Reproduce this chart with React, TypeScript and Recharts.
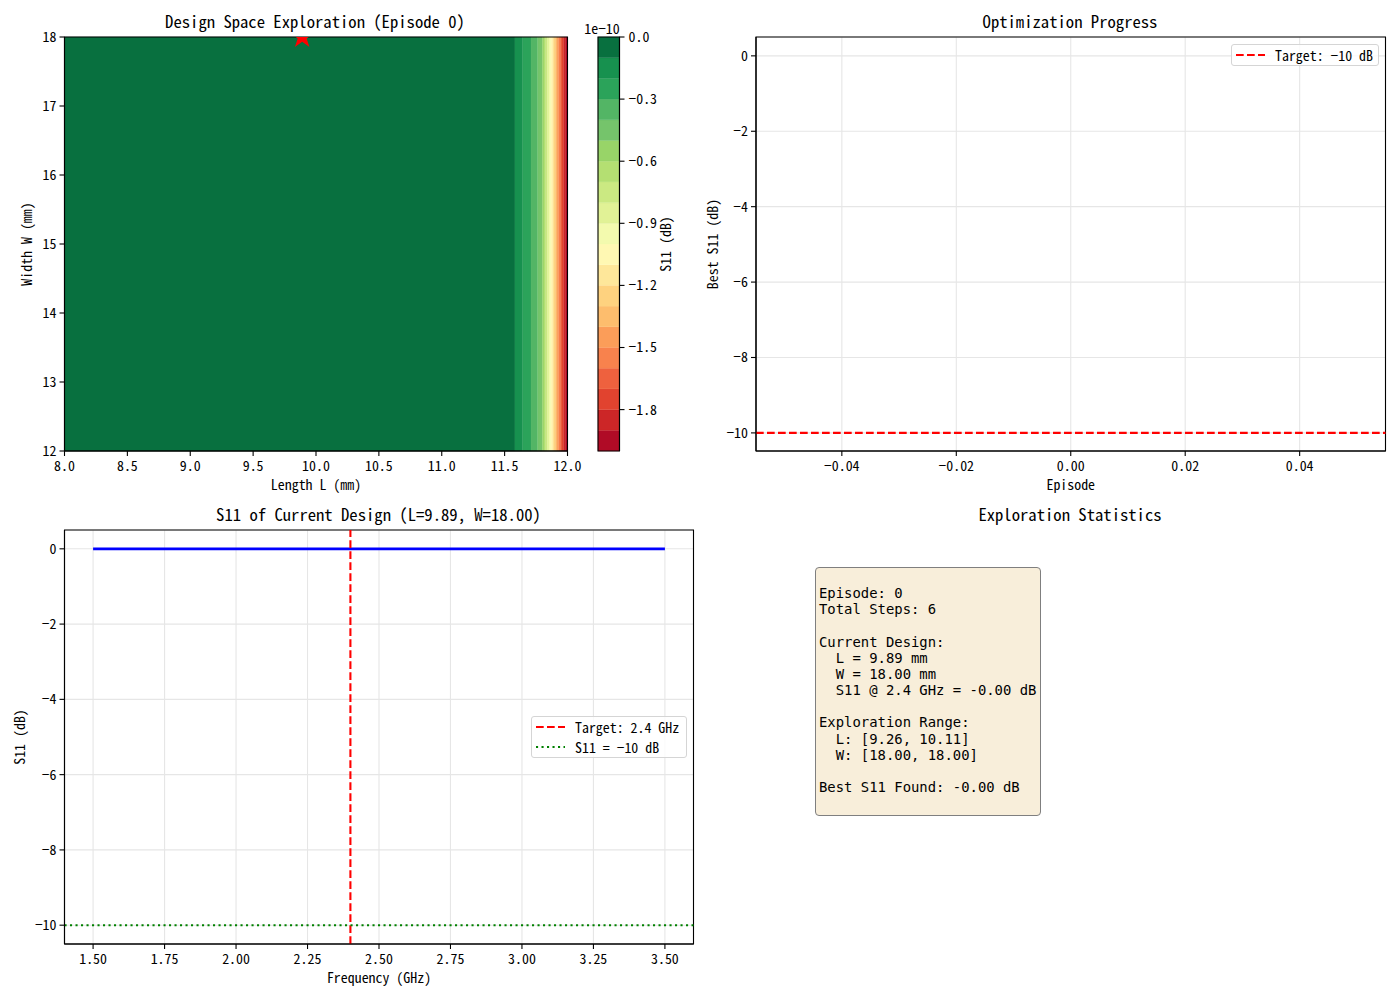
import {
  ComposedChart,
  CartesianGrid,
  Legend,
  Line,
  ReferenceArea,
  ReferenceLine,
  Scatter,
  XAxis,
  YAxis,
  ZAxis,
} from "recharts";

// contour levels, bottom band is -2.0e-10 .. -1.9e-10, top band is -0.1e-10 .. 0
const levels = [
  -2.0, -1.9, -1.8, -1.7, -1.6, -1.5, -1.4, -1.3, -1.2, -1.1, -1.0, -0.9, -0.8,
  -0.7, -0.6, -0.5, -0.4, -0.3, -0.2, -0.1, 0,
];
const levelColors = [
  "#b00b26", "#cc2627", "#e1432f", "#ee613e", "#f8824d", "#fb9d59", "#fdbd6d",
  "#fed27f", "#fee79a", "#fff8b3", "#f3faae", "#e1f296", "#cbe982", "#b4df72",
  "#98d468", "#75c46b", "#53b565", "#2ba35a", "#17914f", "#08703f",
];
// where each contour band ends along L, left to right (top level first)
const contourEdges = [
  8, 11.582, 11.644, 11.71, 11.763, 11.8, 11.813, 11.827, 11.84, 11.853, 11.867,
  11.881, 11.893, 11.905, 11.917, 11.93, 11.943, 11.956, 11.97, 11.985, 12,
];

const currentL = [9.89];
const currentW = [18];

const lengthTicks = [8, 8.5, 9, 9.5, 10, 10.5, 11, 11.5, 12];
const widthTicks = [12, 13, 14, 15, 16, 17, 18];
const colorbarTicks = [0, -0.3, -0.6, -0.9, -1.2, -1.5, -1.8];
const colorbarSpan = [0, 1];
const episodeTicks = [-0.04, -0.02, 0, 0.02, 0.04];
const s11Ticks = [0, -2, -4, -6, -8, -10];
const freqTicks = [1.5, 1.75, 2, 2.25, 2.5, 2.75, 3, 3.25, 3.5];

const targetEpisodes = [-0.055, 0.055];
const targetValues = [-10, -10];

const frequencies = [1.5, 2, 2.5, 3, 3.5];
const s11Values = [0, 0, 0, 0, 0];

const statsLines = [
  "",
  "Episode: 0",
  "Total Steps: 6",
  "",
  "Current Design:",
  "  L = 9.89 mm",
  "  W = 18.00 mm",
  "  S11 @ 2.4 GHz = -0.00 dB",
  "",
  "Exploration Range:",
  "  L: [9.26, 10.11]",
  "  W: [18.00, 18.00]",
  "",
  "Best S11 Found: -0.00 dB",
  "",
];

const FONT = '"Noto Sans Mono CJK SC", "Noto Sans Mono CJK JP", "Liberation Mono", monospace';
const GRID = "#e6e6e6";
const tickStyle = { fill: "#000", fontSize: 13.9, fontFamily: FONT };
const labelStyle = { fill: "#000", fontSize: 13.9, fontFamily: FONT, textAnchor: "middle" as const };
const axisStroke = { stroke: "#000", strokeWidth: 1.1 };

const fmt = (digits: number) => (v: number) => v.toFixed(digits).replace("-", "\u2212");

function Caption({ x, y, text, size = 16.67 }: { x: number; y: number; text: string; size?: number }) {
  return (
    <div
      style={{
        position: "absolute",
        left: x,
        top: y,
        transform: "translate(-50%, -50%)",
        fontFamily: FONT,
        fontSize: size,
        whiteSpace: "pre",
        color: "#000",
      }}
    >
      {text}
    </div>
  );
}

type Entry = { label: string; color: string; dash: string };

function LegendBox({ entries, width }: { entries: Entry[]; width: number }) {
  return (
    <div
      style={{
        width,
        boxSizing: "border-box",
        background: "rgba(255,255,255,0.8)",
        border: "1px solid #d5d5d5",
        borderRadius: 3,
        paddingLeft: 4,
        fontFamily: FONT,
        fontSize: 13.9,
        lineHeight: "20px",
        color: "#000",
      }}
    >
      {entries.map((e) => (
        <div key={e.label} style={{ display: "flex", alignItems: "center", height: 20 }}>
          <svg width={30} height={6} style={{ marginRight: 9 }}>
            <line x1={0} y1={3} x2={29} y2={3} stroke={e.color} strokeWidth={2.1} strokeDasharray={e.dash} />
          </svg>
          <span>{e.label}</span>
        </div>
      ))}
    </div>
  );
}

function ContourPanel() {
  const point = currentL.map((l, i) => ({ l, w: currentW[i] }));
  return (
    <div style={{ position: "absolute", left: 0, top: 0 }}>
      <ComposedChart width={590} height={500} data={point} margin={{ top: 37, right: 22.5, bottom: 0, left: 0 }}>
        <XAxis
          type="number"
          dataKey="l"
          domain={[8, 12]}
          ticks={lengthTicks}
          interval={0}
          allowDataOverflow
          height={49}
          tickSize={5}
          tickMargin={5}
          tick={tickStyle}
          axisLine={axisStroke}
          tickLine={axisStroke}
          tickFormatter={fmt(1)}
          label={{ value: "Length L (mm)", position: "insideBottom", offset: 10, style: labelStyle }}
        />
        <YAxis
          type="number"
          dataKey="w"
          domain={[12, 18]}
          ticks={widthTicks}
          interval={0}
          allowDataOverflow
          width={64.5}
          tickSize={5}
          tickMargin={3}
          tick={tickStyle}
          axisLine={axisStroke}
          tickLine={axisStroke}
          label={{ value: "Width W (mm)", angle: -90, position: "insideLeft", offset: 27, style: labelStyle }}
        />
        <ZAxis range={[170, 170]} />
        {levelColors
          .slice()
          .reverse()
          .map((color, i) => (
            <ReferenceArea
              key={color}
              x1={contourEdges[i]}
              x2={contourEdges[i + 1]}
              y1={12}
              y2={18}
              fill={color}
              fillOpacity={1}
              stroke={color}
              strokeWidth={0.3}
            />
          ))}
        <ReferenceArea x1={8} x2={12} y1={12} y2={18} fill="none" stroke="#000" strokeWidth={1.1} />
        <Scatter dataKey="w" shape="star" fill="#ff0000" isAnimationActive={false} />
      </ComposedChart>
    </div>
  );
}

function Colorbar() {
  const rows = colorbarSpan.map((span) => ({ span, level: levels[levels.length - 1] }));
  return (
    <div style={{ position: "absolute", left: 570, top: 0 }}>
      <ComposedChart width={130} height={500} data={rows} margin={{ top: 37, right: 0, bottom: 49, left: 28 }}>
        <XAxis type="number" dataKey="span" domain={[0, 1]} hide />
        <YAxis
          type="number"
          dataKey="level"
          orientation="right"
          domain={[-2, 0]}
          ticks={colorbarTicks}
          interval={0}
          width={80.5}
          tickSize={5}
          tickMargin={4}
          tick={tickStyle}
          axisLine={axisStroke}
          tickLine={axisStroke}
          tickFormatter={fmt(1)}
          label={{ value: "S11 (dB)", angle: -90, position: "insideLeft", offset: 47, style: labelStyle }}
        />
        {levelColors.map((color, i) => (
          <ReferenceArea
            key={color}
            x1={0}
            x2={1}
            y1={levels[i]}
            y2={levels[i + 1]}
            fill={color}
            fillOpacity={1}
            stroke={color}
            strokeWidth={0.3}
          />
        ))}
        <ReferenceArea x1={0} x2={1} y1={-2} y2={0} fill="none" stroke="#000" strokeWidth={1.1} />
        <Line dataKey="level" stroke="none" dot={false} isAnimationActive={false} />
      </ComposedChart>
    </div>
  );
}

function ProgressPanel() {
  const rows = targetEpisodes.map((episode, i) => ({ episode, target: targetValues[i] }));
  return (
    <div style={{ position: "absolute", left: 700, top: 0 }}>
      <ComposedChart width={690} height={500} data={rows} margin={{ top: 37, right: 4.5, bottom: 0, left: 0 }}>
        <CartesianGrid stroke={GRID} strokeWidth={1.1} />
        <XAxis
          type="number"
          dataKey="episode"
          domain={[-0.055, 0.055]}
          ticks={episodeTicks}
          interval={0}
          height={49}
          tickSize={5}
          tickMargin={5}
          tick={tickStyle}
          axisLine={axisStroke}
          tickLine={axisStroke}
          tickFormatter={fmt(2)}
          label={{ value: "Episode", position: "insideBottom", offset: 10, style: labelStyle }}
        />
        <YAxis
          type="number"
          domain={[-10.48, 0.5]}
          ticks={s11Ticks}
          interval={0}
          width={56}
          tickSize={5}
          tickMargin={3}
          tick={tickStyle}
          axisLine={axisStroke}
          tickLine={axisStroke}
          tickFormatter={fmt(0)}
          label={{ value: "Best S11 (dB)", angle: -90, position: "insideLeft", offset: 13, style: labelStyle }}
        />
        <ReferenceArea x1={-0.055} x2={0.055} y1={-10.48} y2={0.5} fill="none" stroke="#000" strokeWidth={1.1} />
        <Line
          dataKey="target"
          stroke="#ff0000"
          strokeWidth={2.1}
          strokeDasharray="7.7 3.3"
          dot={false}
          isAnimationActive={false}
        />
        <Legend
          layout="horizontal"
          align="center"
          verticalAlign="middle"
          wrapperStyle={{ left: 531, top: 44, width: 148 }}
          content={() => (
            <LegendBox width={148} entries={[{ label: "Target: \u221210 dB", color: "#ff0000", dash: "7.7 3.3" }]} />
          )}
        />
      </ComposedChart>
    </div>
  );
}

function CurrentDesignPanel() {
  const rows = frequencies.map((freq, i) => ({ freq, s11: s11Values[i] }));
  return (
    <div style={{ position: "absolute", left: 0, top: 500 }}>
      <ComposedChart width={696} height={493} data={rows} margin={{ top: 30, right: 2.5, bottom: 0, left: 0 }}>
        <CartesianGrid stroke={GRID} strokeWidth={1.1} />
        <XAxis
          type="number"
          dataKey="freq"
          domain={[1.4, 3.6]}
          ticks={freqTicks}
          interval={0}
          height={49}
          tickSize={5}
          tickMargin={5}
          tick={tickStyle}
          axisLine={axisStroke}
          tickLine={axisStroke}
          tickFormatter={fmt(2)}
          label={{ value: "Frequency (GHz)", position: "insideBottom", offset: 10, style: labelStyle }}
        />
        <YAxis
          type="number"
          domain={[-10.5, 0.5]}
          ticks={s11Ticks}
          interval={0}
          width={64.5}
          tickSize={5}
          tickMargin={3}
          tick={tickStyle}
          axisLine={axisStroke}
          tickLine={axisStroke}
          tickFormatter={fmt(0)}
          label={{ value: "S11 (dB)", angle: -90, position: "insideLeft", offset: 20, style: labelStyle }}
        />
        <ReferenceArea x1={1.4} x2={3.6} y1={-10.5} y2={0.5} fill="none" stroke="#000" strokeWidth={1.1} />
        <Line dataKey="s11" stroke="#0000ff" strokeWidth={2.8} dot={false} isAnimationActive={false} />
        <ReferenceLine x={2.4} stroke="#ff0000" strokeWidth={2.1} strokeDasharray="7.7 3.3" />
        <ReferenceLine y={-10} stroke="#008000" strokeWidth={2.1} strokeDasharray="2.1 3.4" />
        <Legend
          layout="horizontal"
          align="center"
          verticalAlign="middle"
          wrapperStyle={{ left: 531, top: 216, width: 156 }}
          content={() => (
            <LegendBox
              width={156}
              entries={[
                { label: "Target: 2.4 GHz", color: "#ff0000", dash: "7.7 3.3" },
                { label: "S11 = \u221210 dB", color: "#008000", dash: "2.1 3.4" },
              ]}
            />
          )}
        />
      </ComposedChart>
    </div>
  );
}

export default function App() {
  return (
    <div style={{ position: "absolute", left: 0, top: 0, width: 1400, height: 1000, background: "#fff", overflow: "hidden" }}>
      <ContourPanel />
      <Colorbar />
      <ProgressPanel />
      <CurrentDesignPanel />
      <Caption x={315} y={21} text="Design Space Exploration (Episode 0)" />
      <Caption x={602} y={27.5} text={"1e\u221210"} size={13.9} />
      <Caption x={1070} y={21} text="Optimization Progress" />
      <Caption x={378.5} y={514} text="S11 of Current Design (L=9.89, W=18.00)" />
      <Caption x={1070} y={514} text="Exploration Statistics" />
      <div
        style={{
          position: "absolute",
          left: 815,
          top: 567,
          width: 226,
          height: 249,
          boxSizing: "border-box",
          background: "#f8eeda",
          border: "1px solid #7f7f7f",
          borderRadius: 4,
          padding: "1px 0 0 3px",
          fontFamily: '"DejaVu Sans Mono", monospace',
          fontSize: 13.9,
          lineHeight: "16.15px",
          whiteSpace: "pre",
          color: "#000",
        }}
      >
        {statsLines.join("\n")}
      </div>
    </div>
  );
}
